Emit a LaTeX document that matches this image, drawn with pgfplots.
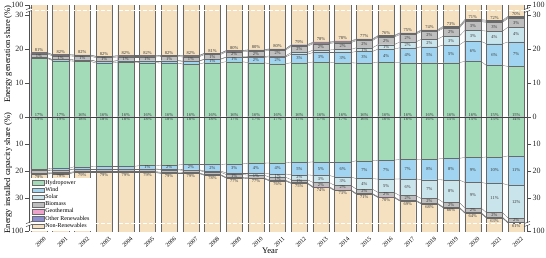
\documentclass[border=0pt]{standalone}
\usepackage{fontspec}
\setmainfont{Liberation Serif}
\usepackage{pgfplots}
\usepackage{pgfplotstable}
\pgfplotsset{compat=1.18}

\definecolor{hydro}{RGB}{163,218,184}
\definecolor{wind}{RGB}{160,212,240}
\definecolor{solar}{RGB}{202,228,236}
\definecolor{bio}{RGB}{190,190,190}
\definecolor{geo}{RGB}{238,163,204}
\definecolor{other}{RGB}{140,142,212}
\definecolor{nonren}{RGB}{245,225,192}
\definecolor{edge}{RGB}{105,105,105}
\definecolor{frame}{RGB}{80,80,80}

% Electricity generation shares (%)
\pgfplotstableread{
yr   hydro wind solar bio geo other nonren
2000 17.3 0.2 0.0 1.1 0.3 0.1 81.0
2001 16.6 0.3 0.0 1.1 0.3 0.1 81.6
2002 16.4 0.4 0.0 1.1 0.3 0.1 81.7
2003 15.9 0.5 0.0 1.1 0.3 0.1 82.1
2004 16.1 0.5 0.0 1.1 0.3 0.1 81.9
2005 16.0 0.6 0.0 1.1 0.3 0.1 81.9
2006 15.9 0.7 0.0 1.2 0.3 0.1 81.8
2007 15.6 0.8 0.1 1.2 0.3 0.1 81.9
2008 16.0 1.0 0.1 1.3 0.3 0.1 81.2
2009 16.3 1.3 0.1 1.5 0.3 0.1 80.4
2010 16.0 1.6 0.2 1.6 0.3 0.1 80.2
2011 15.7 2.0 0.3 1.7 0.3 0.1 79.9
2012 16.0 2.5 0.5 1.8 0.3 0.2 78.7
2013 16.2 2.8 0.7 1.9 0.3 0.2 77.9
2014 16.0 3.0 0.9 2.0 0.3 0.2 77.6
2015 15.9 3.4 1.1 2.1 0.3 0.2 77.0
2016 16.2 3.8 1.3 2.2 0.3 0.2 76.0
2017 16.0 4.4 1.7 2.2 0.3 0.2 75.2
2018 16.0 4.7 2.2 2.3 0.3 0.2 74.3
2019 16.0 5.2 2.6 2.3 0.3 0.3 73.3
2020 16.4 5.9 3.2 2.6 0.3 0.3 71.3
2021 15.2 6.4 3.7 2.6 0.3 0.3 71.5
2022 14.9 7.2 4.4 2.6 0.3 0.3 70.3
}\gentab

% Installed capacity shares (%)
\pgfplotstableread{
yr   hydro wind solar bio geo other nonren
2000 19.2 0.5 0.1 0.9 0.3 0.1 78.9
2001 19.0 0.6 0.1 0.9 0.3 0.1 79.0
2002 18.4 0.8 0.1 0.9 0.3 0.1 79.4
2003 18.3 0.9 0.1 0.9 0.3 0.1 79.4
2004 18.3 0.9 0.1 0.9 0.3 0.1 79.4
2005 18.0 1.2 0.1 0.9 0.3 0.1 79.4
2006 17.8 1.6 0.2 0.9 0.3 0.1 79.1
2007 17.6 1.9 0.2 0.9 0.2 0.1 79.1
2008 17.6 2.4 0.4 0.9 0.2 0.1 78.4
2009 17.4 3.3 0.6 1.0 0.2 0.1 77.4
2010 17.1 3.6 0.8 1.0 0.2 0.1 77.2
2011 17.0 4.1 1.2 1.1 0.2 0.1 76.3
2012 16.8 4.6 1.8 1.1 0.2 0.1 75.4
2013 16.6 5.0 2.6 1.6 0.2 0.1 73.9
2014 16.6 5.6 3.1 1.6 0.2 0.1 72.8
2015 16.2 6.6 3.9 1.6 0.2 0.1 71.4
2016 16.0 7.0 4.9 1.6 0.2 0.1 70.2
2017 15.7 7.2 6.2 1.7 0.2 0.1 68.9
2018 15.6 7.6 7.0 1.7 0.2 0.1 67.8
2019 15.3 8.0 8.3 1.7 0.2 0.1 66.4
2020 15.0 9.2 9.4 1.7 0.2 0.1 64.4
2021 14.8 9.8 10.8 1.7 0.2 0.1 62.6
2022 14.4 10.8 12.2 1.6 0.2 0.1 60.7
}\captab

% cumulative boundaries c1..c7 of the stacked segments
\newcommand\stackshares[1]{%
  \pgfplotstablecreatecol[create col/expr={\thisrow{hydro}}]{c1}{#1}%
  \pgfplotstablecreatecol[create col/expr={\thisrow{c1}+\thisrow{wind}}]{c2}{#1}%
  \pgfplotstablecreatecol[create col/expr={\thisrow{c2}+\thisrow{solar}}]{c3}{#1}%
  \pgfplotstablecreatecol[create col/expr={\thisrow{c3}+\thisrow{bio}}]{c4}{#1}%
  \pgfplotstablecreatecol[create col/expr={\thisrow{c4}+\thisrow{geo}}]{c5}{#1}%
  \pgfplotstablecreatecol[create col/expr={\thisrow{c5}+\thisrow{other}}]{c6}{#1}%
  \pgfplotstablecreatecol[create col/expr={\thisrow{c6}+\thisrow{nonren}}]{c7}{#1}%
}
\stackshares\gentab
\stackshares\captab

\tikzset{breakline/.style={white, line width=1pt, dash pattern=on 4pt off 2pt}}

\pgfplotsset{
  /pgf/number format/assume math mode=true,
  bar/.style={ybar, bar width=0.74, bar shift=0pt, draw=edge, line width=0.3pt, forget plot},
  link/.style={draw=edge, line width=0.3pt, mark=none, forget plot},
  lbl/.style={draw=none, mark=none, forget plot, point meta=explicit,
    nodes near coords={\pgfmathprintnumber[fixed,precision=0]{\pgfplotspointmeta}\%},
    every node near coord/.append style={font=\fontsize{4.5}{4.5}\selectfont,
      text=black!80, inner sep=0.3pt}},
  half/.style={scale only axis, width=498pt, xmin=-0.46, xmax=22.5,
    axis line style={draw=none}, tick align=outside, major tick length=4pt,
    ytick style={draw=frame, line width=0.5pt}, xtick style={draw=none},
    yticklabel style={font=\fontsize{8}{8}\selectfont, text=black!85, inner sep=1.5pt},
    clip=true},
  tophalf/.style={half, height=112pt, ymin=0, ymax=33,
    ytick={0,10,20,30,33}, yticklabels={0,10,20,30,100}, xtick=\empty},
  bothalf/.style={half, height=114pt, ymin=-42.2, ymax=0,
    ytick={-42.2,-30,-20,-10}, yticklabels={100,30,20,10},
    xtick={0,...,22}, xticklabels from table={\captab}{yr},
    xticklabel style={xshift=4.5pt, yshift=-0.5pt, rotate=45, anchor=north east,
      font=\fontsize{6}{6}\selectfont, inner sep=0.5pt}},
}

% connectors between neighbouring bars
\newcommand\linkone[4]{%
  \pgfplotstablegetelem{#3}{#2}\of#1\let\ya\pgfplotsretval
  \pgfplotstablegetelem{\nidx}{#2}\of#1\let\yb\pgfplotsretval
  \edef\linkcmd{\noexpand\addplot[link, y filter/.expression={#4*y}]
    coordinates {(\xa,\ya) (\xb,\yb)};}%
  \linkcmd}
\newcommand\linkrow[3]{%
  \pgfmathtruncatemacro\nidx{#2+1}%
  \pgfmathsetmacro\xa{#2+0.37}%
  \pgfmathsetmacro\xb{#2+0.63}%
  \linkone{#1}{c1}{#2}{#3}\linkone{#1}{c2}{#2}{#3}\linkone{#1}{c3}{#2}{#3}%
  \linkone{#1}{c4}{#2}{#3}\linkone{#1}{c5}{#2}{#3}\linkone{#1}{c6}{#2}{#3}}

% stacked bars painted from the outermost boundary inwards
\newcommand\stackbars[2]{%
  \addplot[bar, fill=nonren] table[x expr=\coordindex, y expr=#2*\thisrow{c7}]{#1};
  \addplot[bar, fill=other]  table[x expr=\coordindex, y expr=#2*\thisrow{c6}]{#1};
  \addplot[bar, fill=geo]    table[x expr=\coordindex, y expr=#2*\thisrow{c5}]{#1};
  \addplot[bar, fill=bio]    table[x expr=\coordindex, y expr=#2*\thisrow{c4}]{#1};
  \addplot[bar, fill=solar]  table[x expr=\coordindex, y expr=#2*\thisrow{c3}]{#1};
  \addplot[bar, fill=wind]   table[x expr=\coordindex, y expr=#2*\thisrow{c2}]{#1};
  \addplot[bar, fill=hydro]  table[x expr=\coordindex, y expr=#2*\thisrow{c1}]{#1};
}

% share labels; #3 is the anchor for the labels at the outer ends
\newcommand\segtags[3]{%
  \addplot[lbl, nodes near coords style={anchor=#3}]
    table[x expr=\coordindex, y expr=0, meta=hydro]{#1};
  \addplot[lbl, restrict expr to domain={\thisrow{wind}}{1:1000}, nodes near coords style={anchor=center}]
    table[x expr=\coordindex, y expr=#2*(\thisrow{c1}+0.5*\thisrow{wind}), meta=wind]{#1};
  \addplot[lbl, restrict expr to domain={\thisrow{solar}}{1:1000}, nodes near coords style={anchor=center}]
    table[x expr=\coordindex, y expr=#2*(\thisrow{c2}+0.5*\thisrow{solar}), meta=solar]{#1};
  \addplot[lbl, restrict expr to domain={\thisrow{bio}}{1:1000}, nodes near coords style={anchor=center}]
    table[x expr=\coordindex, y expr=#2*(\thisrow{c3}+0.5*\thisrow{bio}), meta=bio]{#1};
  \addplot[lbl, nodes near coords style={anchor=#3, yshift=#2*0.6pt}]
    table[x expr=\coordindex, y expr=#2*\thisrow{c6}, meta=nonren]{#1};
}

\begin{document}
\begin{tikzpicture}
% generation share, upwards
\begin{axis}[tophalf, name=top, at={(0,0)}, anchor=south west]
  \stackbars{\gentab}{1}
  \pgfplotsinvokeforeach{0,...,21}{\linkrow{\gentab}{#1}{1}}
  \segtags{\gentab}{1}{south}
  \draw[breakline] (axis cs:-0.46,31.5) -- (axis cs:22.5,31.5);
\end{axis}
\begin{axis}[tophalf, at={(top.south west)}, anchor=south west,
  yticklabel pos=right, ytick style={draw=none}]
\end{axis}

% installed capacity share, downwards
\begin{axis}[bothalf, name=bot, at={(top.south west)}, anchor=north west,
  legend style={at={(axis description cs:0.004,0)}, anchor=south west,
    draw=none, fill=white, font=\fontsize{6}{6}\selectfont, inner sep=1pt,
    row sep=0pt, nodes={inner sep=0.8pt}},
  legend cell align=left,
  legend image code/.code={\draw[#1, line width=0.3pt] (0pt,-2.3pt) rectangle (12pt,2.3pt);}]
  \stackbars{\captab}{-1}
  \pgfplotsinvokeforeach{0,...,21}{\linkrow{\captab}{#1}{-1}}
  \segtags{\captab}{-1}{north}
  \draw[breakline] (axis cs:-0.46,-39.6) -- (axis cs:22.5,-39.6);
  \addlegendimage{draw=edge, fill=hydro}  \addlegendentry{Hydropower}
  \addlegendimage{draw=edge, fill=wind}   \addlegendentry{Wind}
  \addlegendimage{draw=edge, fill=solar}  \addlegendentry{Solar}
  \addlegendimage{draw=edge, fill=bio}    \addlegendentry{Biomass}
  \addlegendimage{draw=edge, fill=geo}    \addlegendentry{Geothermal}
  \addlegendimage{draw=edge, fill=other}  \addlegendentry{Other Renewables}
  \addlegendimage{draw=edge, fill=nonren} \addlegendentry{Non-Renewables}
\end{axis}
\begin{axis}[bothalf, at={(bot.south west)}, anchor=south west,
  yticklabel pos=right, ytick style={draw=none}, xtick=\empty]
\end{axis}

% frame, zero line and axis breaks
\draw[frame, line width=0.6pt] (top.north west) -- (bot.south west);
\draw[frame, line width=0.6pt] (top.north east) -- (bot.south east);
\draw[black!75, line width=0.8pt] (top.south west) -- (top.south east);
\coordinate (b1) at ([yshift=-5pt]top.north west);
\coordinate (b2) at ([yshift=-5pt]top.north east);
\coordinate (b3) at ([yshift=7pt]bot.south west);
\coordinate (b4) at ([yshift=7pt]bot.south east);
\foreach \p in {b1,b2,b3,b4}{
  \fill[white] ([shift={(-2.5pt,-1.1pt)}]\p) rectangle ([shift={(2.5pt,1.1pt)}]\p);
  \draw[frame, line width=0.5pt] ([shift={(-3pt,-2.6pt)}]\p) -- ([shift={(3pt,-0.4pt)}]\p);
  \draw[frame, line width=0.5pt] ([shift={(-3pt,0.4pt)}]\p) -- ([shift={(3pt,2.6pt)}]\p);
}

% titles
\node[rotate=90, font=\fontsize{8.5}{8.5}\selectfont]
  at ([shift={(-21pt,-49pt)}]top.north west) {Energy generation share (\%)};
\node[rotate=90, font=\fontsize{8.5}{8.5}\selectfont]
  at ([shift={(-21pt,-56pt)}]bot.north west) {Energy installed capacity share (\%)};
\node[font=\fontsize{8.5}{8.5}\selectfont] at ([shift={(241pt,-20pt)}]bot.south west) {Year};

\pgfresetboundingbox
\path ([shift={(-29pt,5pt)}]top.north west) rectangle ([shift={(19pt,-26pt)}]bot.south east);
\end{tikzpicture}
\end{document}
